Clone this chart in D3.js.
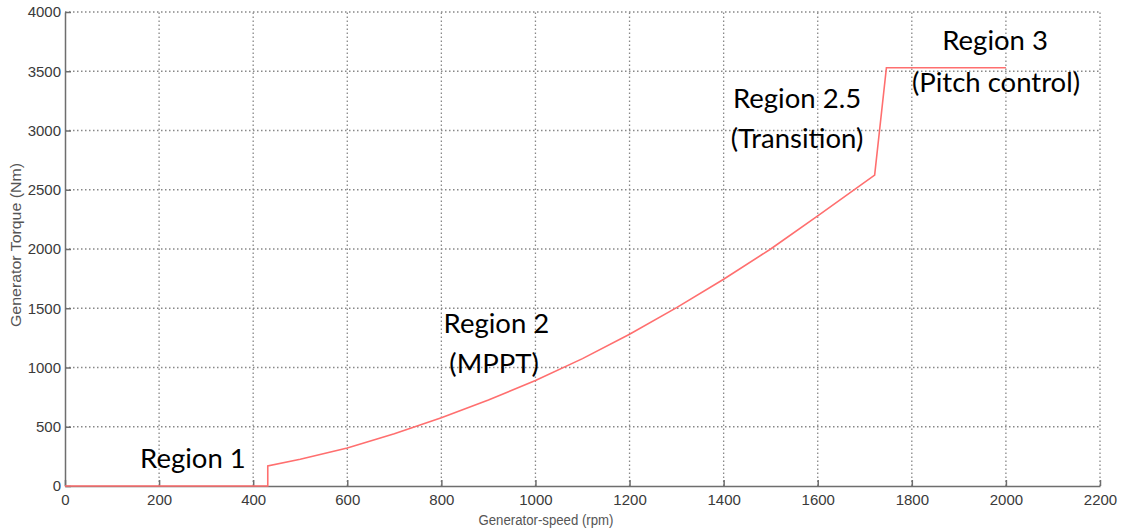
<!DOCTYPE html>
<html>
<head>
<meta charset="utf-8">
<script src="https://cdn.jsdelivr.net/npm/d3@7"></script>
<style>
  body { margin: 0; background: #fff; }
  .tick text { font-family: "Liberation Sans Narrow", "Arial Narrow", "Liberation Sans", sans-serif; font-size: 15px; fill: #3a3a3a; }
</style>
</head>
<body>
<div id="chart"></div>
<script>
// values
var speed  = [0, 431, 431, 500, 600, 700, 800, 900, 1000, 1100, 1200, 1300, 1400, 1500, 1600, 1721, 1746, 2000];
var torque = [0, 0,   169, 225, 320, 440, 575, 725, 890,  1075, 1280, 1505, 1745, 2000, 2280, 2624, 3530, 3530];
var xTicks = [0, 200, 400, 600, 800, 1000, 1200, 1400, 1600, 1800, 2000, 2200];
var yTicks = [0, 500, 1000, 1500, 2000, 2500, 3000, 3500, 4000];
var labels = [
  {text: "Region 1", x: 272, y: 152},
  {text: "Region 2", x: 917, y: 1291},
  {text: "(MPPT)", x: 912, y: 954},
  {text: "Region 2.5", x: 1556, y: 3190},
  {text: "(Transition)", x: 1556, y: 2852},
  {text: "Region 3", x: 1977, y: 3679},
  {text: "(Pitch control)", x: 1979, y: 3325}
];

var W = 1121, H = 531;
var svg = d3.select("#chart").append("svg").attr("width", W).attr("height", H);

var x = d3.scaleLinear().domain([0, 2200]).range([65, 1100]);
var y = d3.scaleLinear().domain([0, 4000]).range([486, 12]);

// grid
svg.append("g").selectAll("line").data(xTicks.slice(1)).enter().append("line")
  .attr("x1", function(d){ return x(d); }).attr("x2", function(d){ return x(d); })
  .attr("y1", y(0)).attr("y2", y(4000))
  .style("stroke", "#888").style("stroke-width", "1.3px").style("stroke-dasharray", "1.5,2.5");
svg.append("g").selectAll("line").data(yTicks.slice(1)).enter().append("line")
  .attr("y1", function(d){ return y(d); }).attr("y2", function(d){ return y(d); })
  .attr("x1", x(0)).attr("x2", x(2200))
  .style("stroke", "#888").style("stroke-width", "1.3px").style("stroke-dasharray", "1.5,2.5");

// axes
svg.append("g").attr("transform", "translate(0," + y(0) + ")")
  .call(d3.axisBottom(x).tickValues(xTicks).tickFormat(d3.format("d")).tickSizeInner(-6).tickSizeOuter(0).tickPadding(8));
svg.append("g").attr("transform", "translate(" + x(0) + ",0)")
  .call(d3.axisLeft(y).tickValues(yTicks).tickFormat(d3.format("d")).tickSizeInner(-6).tickSizeOuter(0).tickPadding(4));
svg.selectAll(".domain").style("stroke", "#6e6e6e").style("stroke-width", "1.5px");
svg.selectAll(".tick line").style("stroke", "#6e6e6e").style("stroke-width", "1.5px");

// curve
var pts = speed.map(function(s, i){ return [s, torque[i]]; });
var line = d3.line().x(function(d){ return x(d[0]); }).y(function(d){ return y(d[1]); });
svg.append("path").attr("d", line(pts))
  .style("fill", "none").style("stroke", "#ff6f6f").style("stroke-width", "1.6px");

// annotations
svg.append("g").selectAll("text").data(labels).enter().append("text")
  .attr("x", function(d){ return x(d.x); }).attr("y", function(d){ return y(d.y); })
  .attr("text-anchor", "middle")
  .style("font-family", "Lato, 'Open Sans', sans-serif").style("font-size", "27.5px").style("fill", "#000")
  .text(function(d){ return d.text; });

// axis titles
svg.append("text").attr("x", 546).attr("y", 525).attr("text-anchor", "middle")
  .attr("textLength", 135).attr("lengthAdjust", "spacingAndGlyphs")
  .style("font-family", "'Liberation Sans Narrow', 'Liberation Sans', Arial, sans-serif").style("font-size", "14px").style("fill", "#555")
  .text("Generator-speed (rpm)");
svg.append("text").attr("transform", "translate(21,245) rotate(-90)").attr("text-anchor", "middle")
  .attr("textLength", 164).attr("lengthAdjust", "spacingAndGlyphs")
  .style("font-family", "'Liberation Sans Narrow', 'Liberation Sans', Arial, sans-serif").style("font-size", "14px").style("fill", "#555")
  .text("Generator Torque (Nm)");
</script>
</body>
</html>
